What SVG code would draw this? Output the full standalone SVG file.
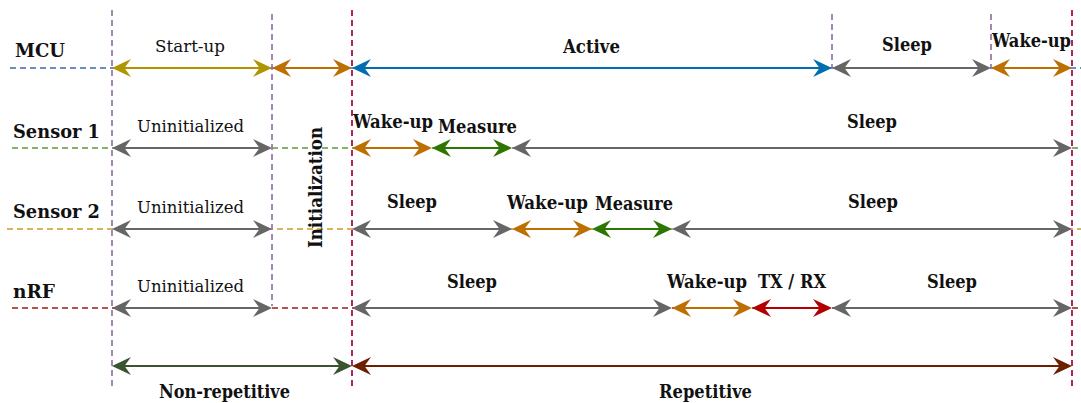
<svg xmlns="http://www.w3.org/2000/svg" width="1081" height="403" viewBox="0 0 1081 403">
<style>
.row{stroke-width:1.8;stroke-dasharray:6 4;fill:none}
.vl{stroke-width:1.7;stroke-dasharray:6 4;fill:none}
.ar{stroke-width:2.2;fill:none}
.b{font-family:"DejaVu Serif","Liberation Serif",serif;font-weight:bold;font-size:18.5px;fill:#111111}
.r{font-family:"DejaVu Serif","Liberation Serif",serif;font-size:17.5px;fill:#111111}
.m{text-anchor:middle}
</style>
<defs>
<marker id="mGold" viewBox="0 0 19 18" markerWidth="19" markerHeight="18" markerUnits="userSpaceOnUse" refX="7" refY="9" orient="auto-start-reverse"><path d="M0,0 L19,9 L0,18 L6.5,9 Z" fill="#B09500"/></marker>
<marker id="mOrange" viewBox="0 0 19 18" markerWidth="19" markerHeight="18" markerUnits="userSpaceOnUse" refX="7" refY="9" orient="auto-start-reverse"><path d="M0,0 L19,9 L0,18 L6.5,9 Z" fill="#BD7000"/></marker>
<marker id="mBlue" viewBox="0 0 19 18" markerWidth="19" markerHeight="18" markerUnits="userSpaceOnUse" refX="7" refY="9" orient="auto-start-reverse"><path d="M0,0 L19,9 L0,18 L6.5,9 Z" fill="#006EAF"/></marker>
<marker id="mGray" viewBox="0 0 19 18" markerWidth="19" markerHeight="18" markerUnits="userSpaceOnUse" refX="7" refY="9" orient="auto-start-reverse"><path d="M0,0 L19,9 L0,18 L6.5,9 Z" fill="#666666"/></marker>
<marker id="mGreen" viewBox="0 0 19 18" markerWidth="19" markerHeight="18" markerUnits="userSpaceOnUse" refX="7" refY="9" orient="auto-start-reverse"><path d="M0,0 L19,9 L0,18 L6.5,9 Z" fill="#2D7600"/></marker>
<marker id="mRed" viewBox="0 0 19 18" markerWidth="19" markerHeight="18" markerUnits="userSpaceOnUse" refX="7" refY="9" orient="auto-start-reverse"><path d="M0,0 L19,9 L0,18 L6.5,9 Z" fill="#B20000"/></marker>
<marker id="mDkGreen" viewBox="0 0 19 18" markerWidth="19" markerHeight="18" markerUnits="userSpaceOnUse" refX="7" refY="9" orient="auto-start-reverse"><path d="M0,0 L19,9 L0,18 L6.5,9 Z" fill="#3A5431"/></marker>
<marker id="mBrown" viewBox="0 0 19 18" markerWidth="19" markerHeight="18" markerUnits="userSpaceOnUse" refX="7" refY="9" orient="auto-start-reverse"><path d="M0,0 L19,9 L0,18 L6.5,9 Z" fill="#6D1F00"/></marker>
</defs>
<rect width="1081" height="403" fill="#ffffff"/>

<g id="row-lines">
<line class="row" x1="10" y1="68" x2="1081" y2="68" stroke="#6C8EBF"/>
<line class="row" x1="12" y1="148" x2="1081" y2="148" stroke="#82B366"/>
<line class="row" x1="7" y1="229" x2="1081" y2="229" stroke="#D6B656"/>
<line class="row" x1="12" y1="308" x2="1081" y2="308" stroke="#B85450"/>
</g>

<g id="phase-lines">
<line class="vl" x1="112" y1="10" x2="112" y2="388" stroke="#9673A6"/>
<line class="vl" x1="272" y1="14" x2="272" y2="306" stroke="#9673A6"/>
<line class="vl" x1="832" y1="14" x2="832" y2="68" stroke="#9673A6"/>
<line class="vl" x1="991" y1="14" x2="991" y2="68" stroke="#9673A6"/>
<line class="vl" x1="352" y1="10" x2="352" y2="388" stroke="#A50040"/>
<line class="vl" x1="1072" y1="10" x2="1072" y2="388" stroke="#A50040"/>
</g>

<g id="connectors">
<!-- MCU -->
<line class="ar" x1="124" y1="68" x2="260" y2="68" stroke="#B09500" marker-start="url(#mGold)" marker-end="url(#mGold)"/>
<line class="ar" x1="284" y1="68" x2="340" y2="68" stroke="#BD7000" marker-start="url(#mOrange)" marker-end="url(#mOrange)"/>
<line class="ar" x1="364" y1="68" x2="820" y2="68" stroke="#006EAF" marker-start="url(#mBlue)" marker-end="url(#mBlue)"/>
<line class="ar" x1="844" y1="68" x2="979" y2="68" stroke="#666666" marker-start="url(#mGray)" marker-end="url(#mGray)"/>
<line class="ar" x1="1003" y1="68" x2="1060" y2="68" stroke="#BD7000" marker-start="url(#mOrange)" marker-end="url(#mOrange)"/>
<!-- Sensor 1 -->
<line class="ar" x1="124" y1="148" x2="260" y2="148" stroke="#666666" marker-start="url(#mGray)" marker-end="url(#mGray)"/>
<line class="ar" x1="364" y1="148" x2="420" y2="148" stroke="#BD7000" marker-start="url(#mOrange)" marker-end="url(#mOrange)"/>
<line class="ar" x1="444" y1="148" x2="500" y2="148" stroke="#2D7600" marker-start="url(#mGreen)" marker-end="url(#mGreen)"/>
<line class="ar" x1="524" y1="148" x2="1060" y2="148" stroke="#666666" marker-start="url(#mGray)" marker-end="url(#mGray)"/>
<!-- Sensor 2 -->
<line class="ar" x1="124" y1="229" x2="260" y2="229" stroke="#666666" marker-start="url(#mGray)" marker-end="url(#mGray)"/>
<line class="ar" x1="364" y1="229" x2="500" y2="229" stroke="#666666" marker-start="url(#mGray)" marker-end="url(#mGray)"/>
<line class="ar" x1="524" y1="229" x2="580" y2="229" stroke="#BD7000" marker-start="url(#mOrange)" marker-end="url(#mOrange)"/>
<line class="ar" x1="604" y1="229" x2="660" y2="229" stroke="#2D7600" marker-start="url(#mGreen)" marker-end="url(#mGreen)"/>
<line class="ar" x1="684" y1="229" x2="1060" y2="229" stroke="#666666" marker-start="url(#mGray)" marker-end="url(#mGray)"/>
<!-- nRF -->
<line class="ar" x1="124" y1="308" x2="260" y2="308" stroke="#666666" marker-start="url(#mGray)" marker-end="url(#mGray)"/>
<line class="ar" x1="364" y1="308" x2="660" y2="308" stroke="#666666" marker-start="url(#mGray)" marker-end="url(#mGray)"/>
<line class="ar" x1="684" y1="308" x2="740" y2="308" stroke="#BD7000" marker-start="url(#mOrange)" marker-end="url(#mOrange)"/>
<line class="ar" x1="764" y1="308" x2="820" y2="308" stroke="#B20000" marker-start="url(#mRed)" marker-end="url(#mRed)"/>
<line class="ar" x1="844" y1="308" x2="1060" y2="308" stroke="#666666" marker-start="url(#mGray)" marker-end="url(#mGray)"/>
<!-- Phases -->
<line class="ar" x1="124" y1="366" x2="340" y2="366" stroke="#3A5431" marker-start="url(#mDkGreen)" marker-end="url(#mDkGreen)"/>
<line class="ar" x1="364" y1="366" x2="1060" y2="366" stroke="#6D1F00" marker-start="url(#mBrown)" marker-end="url(#mBrown)"/>
</g>

<g id="row-mcu">
<text class="b" x="15" y="57" textLength="50" lengthAdjust="spacingAndGlyphs">MCU</text>
<text class="r m" x="190" y="52" textLength="70" lengthAdjust="spacingAndGlyphs">Start-up</text>
<text class="b m" x="591.5" y="52.5" textLength="57" lengthAdjust="spacingAndGlyphs">Active</text>
<text class="b m" x="907" y="51" textLength="50" lengthAdjust="spacingAndGlyphs">Sleep</text>
<text class="b m" x="1031.5" y="47" textLength="79" lengthAdjust="spacingAndGlyphs">Wake-up</text>
</g>

<g id="row-sensor1">
<text class="b" x="13" y="138" textLength="87" lengthAdjust="spacingAndGlyphs">Sensor 1</text>
<text class="r m" x="190.5" y="132" textLength="107" lengthAdjust="spacingAndGlyphs">Uninitialized</text>
<text class="b m" x="393" y="128" textLength="80" lengthAdjust="spacingAndGlyphs">Wake-up</text>
<text class="b m" x="477.5" y="132.5" textLength="79" lengthAdjust="spacingAndGlyphs">Measure</text>
<text class="b m" x="872" y="128" textLength="50" lengthAdjust="spacingAndGlyphs">Sleep</text>
</g>

<g id="row-sensor2">
<text class="b" x="13" y="218" textLength="87" lengthAdjust="spacingAndGlyphs">Sensor 2</text>
<text class="r m" x="190.5" y="212.5" textLength="107" lengthAdjust="spacingAndGlyphs">Uninitialized</text>
<text class="b m" x="412" y="208" textLength="50" lengthAdjust="spacingAndGlyphs">Sleep</text>
<text class="b m" x="547.5" y="209" textLength="81" lengthAdjust="spacingAndGlyphs">Wake-up</text>
<text class="b m" x="634" y="210" textLength="78" lengthAdjust="spacingAndGlyphs">Measure</text>
<text class="b m" x="873" y="208" textLength="50" lengthAdjust="spacingAndGlyphs">Sleep</text>
</g>

<g id="row-nrf">
<text class="b" x="13" y="298" textLength="42" lengthAdjust="spacingAndGlyphs">nRF</text>
<text class="r m" x="190.5" y="292" textLength="107" lengthAdjust="spacingAndGlyphs">Uninitialized</text>
<text class="b m" x="472" y="288" textLength="50" lengthAdjust="spacingAndGlyphs">Sleep</text>
<text class="b m" x="707" y="288" textLength="80" lengthAdjust="spacingAndGlyphs">Wake-up</text>
<text class="b m" x="792" y="288" textLength="68" lengthAdjust="spacingAndGlyphs">TX / RX</text>
<text class="b m" x="952" y="288" textLength="50" lengthAdjust="spacingAndGlyphs">Sleep</text>
</g>

<g id="initialization">
<text class="b m" transform="translate(322,187.5) rotate(-90)" x="0" y="0" textLength="121" lengthAdjust="spacingAndGlyphs">Initialization</text>
</g>

<g id="phases">
<text class="b m" x="224.5" y="397.5" textLength="131" lengthAdjust="spacingAndGlyphs">Non-repetitive</text>
<text class="b m" x="705.5" y="397.5" textLength="93" lengthAdjust="spacingAndGlyphs">Repetitive</text>
</g>
</svg>
